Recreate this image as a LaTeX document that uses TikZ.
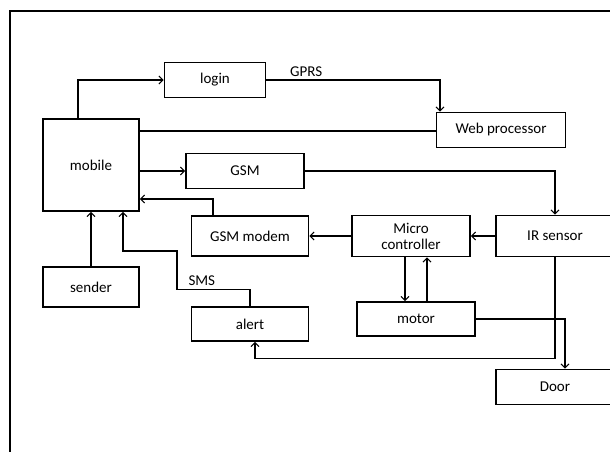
\documentclass[tikz,border=0pt]{standalone}
\usepackage{fontspec}
\setmainfont{Carlito}
\usetikzlibrary{arrows.meta}
\begin{document}
\begin{tikzpicture}[x=1pt, y=-1pt, >={Straight Barb[length=4pt, width=8pt]}]

    \tikzset{block/.style={%
      draw,%
      rectangle,%
      line width=1.6pt,%
      inner sep=0pt,%
      align=center,%
      font=\fontsize{15}{16}\selectfont}%
    };

    \tikzset{link/.style={line width=1.1pt}};

    \useasboundingbox (0,0) rectangle (610,452);

    % frame
    \draw [line width=1.6pt] (10,452) -- (10,11) -- (612,11);

    %%%%%%%%%%%%%%%
    %   blocks    %
    %%%%%%%%%%%%%%%
    \node [block, minimum width=96pt, minimum height=92pt] (mob) at (91,165) {mobile};
    \node [block, minimum width=101pt, minimum height=35pt] (lgn) at (215,80) {login};
    \node [block, minimum width=129pt, minimum height=35pt] (web) at (501,130) {Web processor};
    \node [block, minimum width=118pt, minimum height=35pt] (gsm) at (245,171) {GSM};
    \node [block, minimum width=117pt, minimum height=40pt] (mdm) at (250,236) {GSM modem};
    \node [block, minimum width=118pt, minimum height=41pt] (mcu) at (411,236) {Micro\\controller};
    \node [block, minimum width=118pt, minimum height=41pt] (irs) at (555,236) {IR sensor};
    \node [block, minimum width=96pt, minimum height=40pt] (snd) at (91,287) {sender};
    \node [block, minimum width=117pt, minimum height=34pt] (alr) at (250,324) {alert};
    \node [block, minimum width=118pt, minimum height=34pt] (mot) at (416,319) {motor};
    \node [block, minimum width=118pt, minimum height=35pt] (dor) at (555,387) {Door};

    %%%%%%%%%%%%%%%
    %   links     %
    %%%%%%%%%%%%%%%
    \draw [link, ->] ([xshift=-13pt]mob.north) |- (lgn.west);
    \draw [link, ->] (lgn.east) -| node [pos=0.115, above, font=\fontsize{15}{16}\selectfont] {GPRS} ([xshift=-61pt]web.north);
    \draw [link] ([yshift=34pt]mob.east) -- ([yshift=34pt]mob.east -| web.west);
    \draw [link, ->] (gsm.west -| mob.east) -- (gsm.west);
    \draw [link, ->] (gsm.east) -| (irs.north);
    \draw [link, ->] (irs) -- (mcu);
    \draw [link, ->] (mcu) -- (mdm);
    \draw [link, ->] ([xshift=-37pt]mdm.north) |- ([yshift=-34pt]mob.east);
    \draw [link, ->] (snd) -- (mob);
    \draw [link, ->] (alr.north) -- ++(0,-17) -| node [pos=0.33, above, font=\fontsize{15}{16}\selectfont] {SMS} (177,251) -| ([xshift=32pt]mob.south);
    \draw [link, ->] ([xshift=-6pt]mcu.south) -- ([xshift=-6pt]mcu.south |- mot.north);
    \draw [link, ->] ([xshift=16pt]mcu.south |- mot.north) -- ([xshift=16pt]mcu.south);
    \draw [link, ->] (mot.east) -| ([xshift=10pt]dor.north);
    \draw [link, ->] (irs.south) -- ++(0,101) -| ([xshift=5pt]alr.south);

  \end{tikzpicture}
\end{document}
